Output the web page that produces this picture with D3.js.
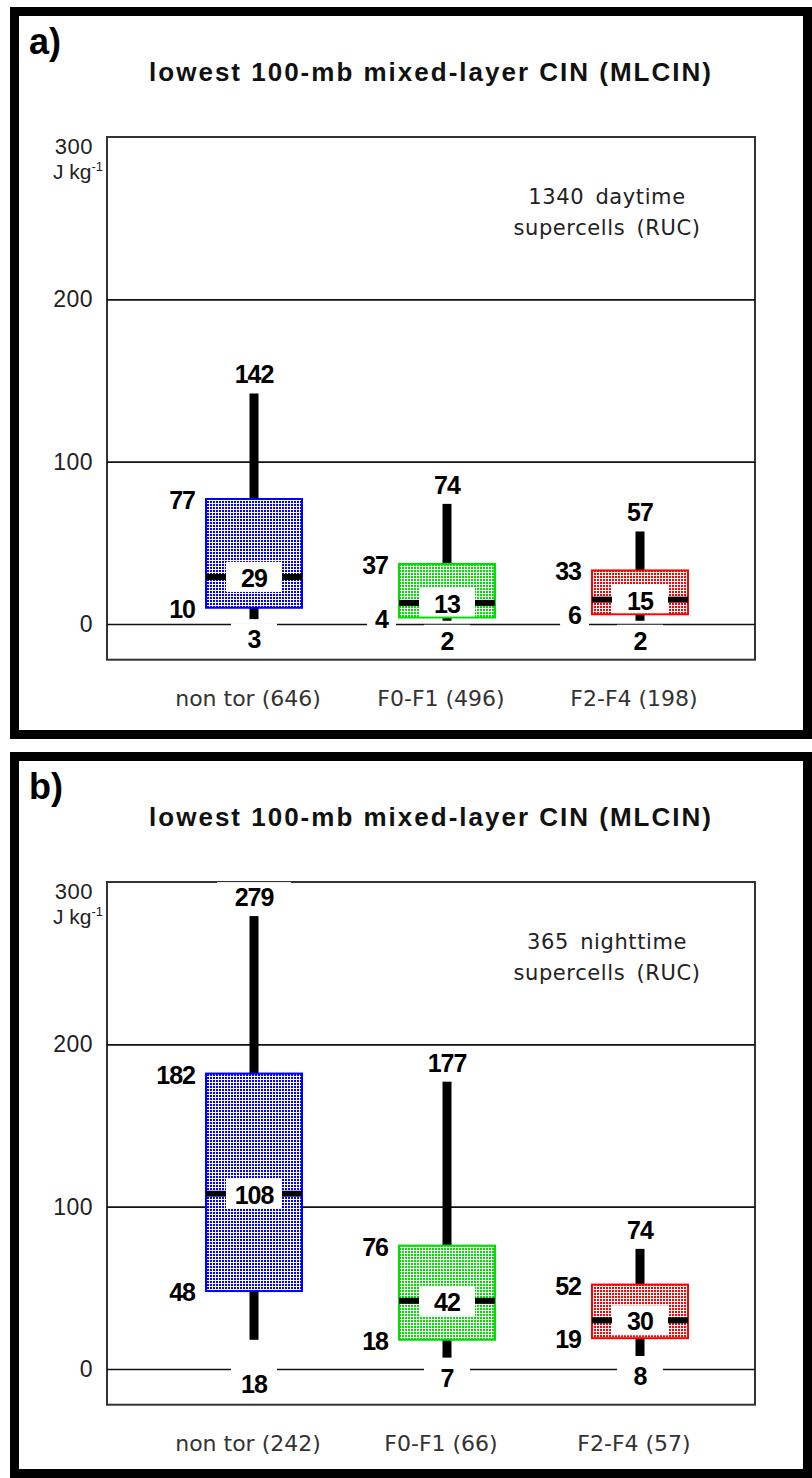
<!DOCTYPE html>
<html>
<head>
<meta charset="utf-8">
<script src="https://cdn.jsdelivr.net/npm/d3@7"></script>
<style>
  html, body { margin: 0; padding: 0; background: #fff; }
  svg { display: block; }
</style>
</head>
<body>
<svg id="chart" width="812" height="1478"></svg>
<script>
// ---------------- data ----------------
const groups = ["non tor", "F0-F1", "F2-F4"];
const dayCounts = [646, 496, 198];
const nightCounts = [242, 66, 57];

const dayMin = [3, 2, 2];
const dayQ1 = [10, 4, 6];
const dayMed = [29, 13, 15];
const dayQ3 = [77, 37, 33];
const dayMax = [142, 74, 57];

const nightMin = [18, 7, 8];
const nightQ1 = [48, 18, 19];
const nightMed = [108, 42, 30];
const nightQ3 = [182, 76, 52];
const nightMax = [279, 177, 74];

const gridTicks = [0, 100, 200];
const topTick = 300;
const titleText = "lowest 100-mb mixed-layer CIN (MLCIN)";
const panelTags = ["a)", "b)"];
const noteDay = ["1340 daytime", "supercells (RUC)"];
const noteNight = ["365 nighttime", "supercells (RUC)"];

// ---------------- layout ----------------
const svg = d3.select("#chart");
const colors = ["#0000ff", "#00e000", "#ff0000"];

// fill patterns (coloured dots on white)
const defs = svg.append("defs");
colors.forEach((c, i) => {
  const p = defs.append("pattern").attr("id", "pat" + i)
    .attr("width", 3).attr("height", 3).attr("patternUnits", "userSpaceOnUse");
  p.append("rect").attr("width", 3).attr("height", 3).attr("fill", "#fff");
  p.append("rect").attr("x", 0).attr("y", 0).attr("width", 2).attr("height", 2).attr("fill", c);
});

const panels = [
  { tag: panelTags[0], note: noteDay, counts: dayCounts, mn: dayMin, q1: dayQ1, md: dayMed, q3: dayQ3, mx: dayMax, dy: 0, outerTop: 7, outerBottom: 739 },
  { tag: panelTags[1], note: noteNight, counts: nightCounts, mn: nightMin, q1: nightQ1, md: nightMed, q3: nightQ3, mx: nightMax, dy: 745, outerTop: 752, outerBottom: 1478 }
];

const plotL = 107, plotR = 755;
const boxW = 96;
const x = d3.scalePoint().domain(groups).range([254, 640]);

const labelFont = "'Liberation Sans', Arial, sans-serif";

panels.forEach(P => {
  const g = svg.append("g");
  // outer thick border
  g.append("rect")
    .attr("x", 14.5).attr("y", P.outerTop + 4.5)
    .attr("width", 793).attr("height", P.outerBottom - P.outerTop - 9)
    .attr("fill", "#fff").attr("stroke", "#000").attr("stroke-width", 9);

  const y = d3.scaleLinear().domain([0, topTick]).range([624 + P.dy, 137 + P.dy]);
  const plotT = y(topTick), plotB = y(-22);

  // panel tag
  g.append("text").attr("x", 29).attr("y", 54 + P.dy)
    .attr("font-family", labelFont).attr("font-weight", "bold").attr("font-size", 36)
    .text(P.tag);

  // title
  g.append("text").attr("x", 431).attr("y", 81 + P.dy)
    .attr("text-anchor", "middle")
    .attr("font-family", labelFont).attr("font-weight", "bold").attr("font-size", 26)
    .attr("letter-spacing", 2).attr("fill", "#111")
    .text(titleText);

  // plot frame
  g.append("rect").attr("x", plotL).attr("y", plotT)
    .attr("width", plotR - plotL).attr("height", plotB - plotT)
    .attr("fill", "none").attr("stroke", "#333").attr("stroke-width", 2);

  // gridlines + tick labels via axis
  const ax = g.append("g").attr("transform", `translate(${plotL},0)`)
    .call(d3.axisLeft(y).tickValues(gridTicks).tickSize(-(plotR - plotL)).tickPadding(14).tickFormat(d3.format("d")));
  ax.select(".domain").remove();
  ax.selectAll(".tick line").attr("stroke", "#111").attr("stroke-width", 1.6);
  ax.selectAll(".tick text").attr("font-family", labelFont).attr("font-size", 23)
    .attr("letter-spacing", 0.5).attr("fill", "#222");

  // top tick + unit
  g.append("text").attr("x", 93).attr("y", plotT + 17)
    .attr("text-anchor", "end").attr("font-family", labelFont).attr("font-size", 22)
    .attr("letter-spacing", 0.5).attr("fill", "#222").text(topTick);
  const u = g.append("text").attr("x", 103).attr("y", plotT + 42)
    .attr("text-anchor", "end").attr("font-family", labelFont).attr("font-size", 21).attr("fill", "#222");
  u.append("tspan").text("J kg");
  u.append("tspan").attr("dy", -8).attr("font-size", 13).text("-1");

  // note
  P.note.forEach((t, i) => {
    g.append("text").attr("x", 607).attr("y", 204 + i * 31 + P.dy)
      .attr("text-anchor", "middle").attr("font-family", "'DejaVu Sans', sans-serif")
      .attr("font-size", 21).attr("word-spacing", 4).attr("letter-spacing", 0.6).attr("fill", "#222")
      .text(t);
  });

  const data = groups.map((k, i) => ({ k, i, mn: P.mn[i], q1: P.q1[i], md: P.md[i], q3: P.q3[i], mx: P.mx[i], n: P.counts[i] }));

  // measure helper
  const measure = (txt) => {
    const t = svg.append("text").attr("font-family", labelFont).attr("font-weight", "bold")
      .attr("font-size", 25).attr("letter-spacing", -1).text(txt);
    const w = t.node().getComputedTextLength();
    t.remove();
    return w;
  };

  data.forEach(d => {
    const cx = x(d.k), x0 = cx - boxW / 2, x1 = cx + boxW / 2;
    const yTop = y(d.q3), yBot = y(d.q1), yMed = y(d.md);
    const yMax = y(d.mx), yMin = y(d.mn);
    const lowCy = (yMin + 19 < y(0)) ? y(0) + 14 : yMin + 19;
    const topCy = yMax - 20;

    // white backgrounds that break the lines
    g.append("rect").attr("x", cx - 37).attr("y", topCy - 14).attr("width", 74).attr("height", 28).attr("fill", "#fff");
    g.append("rect").attr("x", cx - 23).attr("y", lowCy - 15).attr("width", 46).attr("height", 30).attr("fill", "#fff");
    [[d.q3, yTop], [d.q1, yBot]].forEach(([v, yy]) => {
      const w = measure(String(v)) + 16;
      g.append("rect").attr("x", x0 - 3 - w).attr("y", yy - 14).attr("width", w).attr("height", 28).attr("fill", "#fff");
    });

    // whiskers
    g.append("rect").attr("x", cx - 4.5).attr("y", yMax).attr("width", 9).attr("height", yTop - yMax).attr("fill", "#000");
    g.append("rect").attr("x", cx - 4.5).attr("y", yBot).attr("width", 9).attr("height", Math.max(0, yMin - yBot)).attr("fill", "#000");

    // box
    g.append("rect").attr("x", x0).attr("y", yTop).attr("width", boxW).attr("height", yBot - yTop)
      .attr("fill", `url(#pat${d.i})`).attr("stroke", colors[d.i]).attr("stroke-width", 2);

    // median white window
    const wy0 = Math.max(yMed - 15, yTop + 1), wy1 = Math.min(yMed + 15, yBot - 1);
    g.append("rect").attr("x", x0 + 20).attr("y", wy0).attr("width", boxW - 40).attr("height", wy1 - wy0).attr("fill", "#fff");
    // median dashes
    g.append("rect").attr("x", x0).attr("y", yMed - 3).attr("width", 20).attr("height", 6).attr("fill", "#000");
    g.append("rect").attr("x", x1 - 20).attr("y", yMed - 3).attr("width", 20).attr("height", 6).attr("fill", "#000");

    const lab = (tx, ty, txt, anchor) => g.append("text").attr("x", tx).attr("y", ty)
      .attr("text-anchor", anchor).attr("dominant-baseline", "central")
      .attr("font-family", labelFont).attr("font-weight", "bold").attr("font-size", 25)
      .attr("letter-spacing", -1).attr("fill", "#000").text(txt);

    lab(cx, topCy + 1, d.mx, "middle");
    lab(cx, lowCy + 1, d.mn, "middle");
    lab(cx, yMed + 1, d.md, "middle");
    lab(x0 - 11, yTop + 1, d.q3, "end");
    lab(x0 - 11, yBot + 1, d.q1, "end");

    // category label
    g.append("text").attr("x", cx - 6).attr("y", y(0) + 82)
      .attr("text-anchor", "middle").attr("font-family", "'DejaVu Sans', sans-serif")
      .attr("font-size", 22).attr("fill", "#333")
      .text(`${d.k} (${d.n})`);
  });
});
</script>
</body>
</html>
